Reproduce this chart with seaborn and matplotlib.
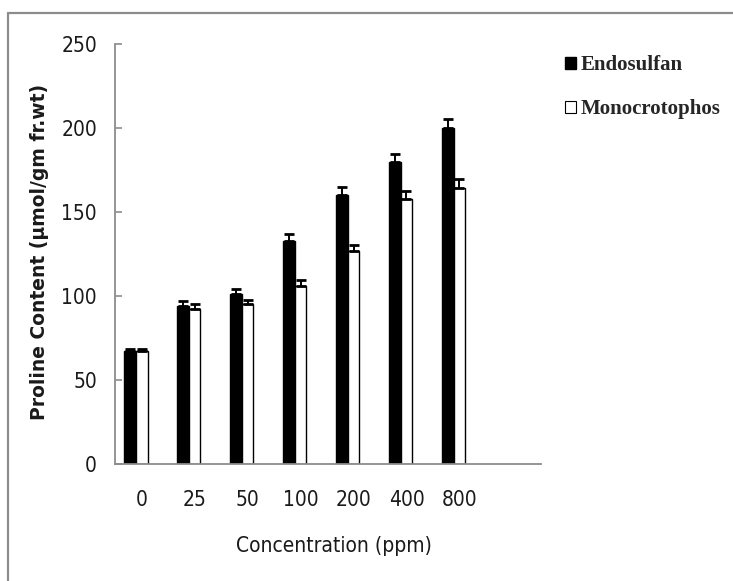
import numpy as np
import pandas as pd
import matplotlib
matplotlib.use("Agg")
import matplotlib.pyplot as plt
from matplotlib.patches import Patch
from matplotlib.lines import Line2D
from matplotlib import font_manager
import seaborn as sns

# values
concentrations = ["0", "25", "50", "100", "200", "400", "800"]
endosulfan = [67, 94, 101, 133, 160, 179.5, 200]
endosulfan_err = [1.2, 2.8, 3.2, 3.8, 4.6, 5.2, 5.6]
monocrotophos = [67, 92, 95, 106, 126.5, 158, 164.5]
monocrotophos_err = [1.2, 3.0, 2.4, 3.8, 3.6, 4.4, 5.0]
series = ["Endosulfan", "Monocrotophos"]
y_ticks = [0, 50, 100, 150, 200, 250]

df = pd.DataFrame({
    "conc": concentrations * 2,
    "value": endosulfan + monocrotophos,
    "err": endosulfan_err + monocrotophos_err,
    "series": [series[0]] * 7 + [series[1]] * 7,
})

sns.set_style("white")

# narrow sans for the axis text (Calibri-like look in the original)
narrow = font_manager.FontProperties(family="DejaVu Sans", stretch="condensed", size=15)

fig = plt.figure(figsize=(7.33, 5.81), dpi=100)
ax = fig.add_axes([0.157, 0.2014, 0.581, 0.7229])

sns.barplot(data=df, x="conc", y="value", hue="series", order=concentrations,
            hue_order=series, palette=["black", "white"], width=0.45, gap=0,
            errorbar=None, edgecolor="black", linewidth=1.0, legend=False, ax=ax)
for p in ax.patches:
    p.set_joinstyle("miter")

# upward-only error bars on top of each bar
for cont, s in zip(ax.containers, series):
    sub = df[df["series"] == s]
    xs = [p.get_x() + p.get_width() / 2 for p in cont.patches]
    ax.errorbar(xs, sub["value"].values, yerr=[np.zeros(len(xs)), sub["err"].values],
                fmt="none", ecolor="black", elinewidth=1.4, capsize=3.8, capthick=2.0)

ax.set_xlim(-0.387, 7.65)
ax.set_ylim(0, 250)
ax.set_yticks(y_ticks)
ax.set_xticks(np.arange(len(concentrations)) + 0.115)
ax.set_xticklabels(concentrations)

for side in ["top", "right"]:
    ax.spines[side].set_visible(False)
for side in ["left", "bottom"]:
    ax.spines[side].set_color("#8c8c8c")
    ax.spines[side].set_linewidth(1.3)

ax.tick_params(axis="y", direction="in", length=5, width=1.2, color="#8c8c8c",
               left=True, pad=13)
ax.tick_params(axis="x", length=0, pad=19)
for lab in ax.get_xticklabels() + ax.get_yticklabels():
    lab.set_fontproperties(narrow)
    lab.set_color("#1a1a1a")

ax.set_xlabel("Concentration (ppm)", fontproperties=narrow, color="#1a1a1a")
ax.xaxis.set_label_coords(0.514, -0.172)
ax.set_ylabel("Proline Content (\u00b5mol/gm fr.wt)", fontsize=13.5,
              fontweight="bold", color="#1a1a1a")
ax.yaxis.set_label_coords(-0.155, 0.505)

handles = [Patch(facecolor="black", edgecolor="black"),
           Patch(facecolor="white", edgecolor="black", linewidth=0.8)]
fig.legend(handles, series, loc="upper left", bbox_to_anchor=(0.771, 0.905),
           frameon=False, prop={"family": "Liberation Serif", "weight": "bold", "size": 15},
           handlelength=0.5, handleheight=0.5, handletextpad=0.25,
           labelspacing=1.15, borderpad=0, borderaxespad=0)

# grey frame around the picture (only left and top edges visible)
fig.add_artist(Line2D([0.0113, 0.0113], [0, 0.977], transform=fig.transFigure,
                      color="#8c8c8c", linewidth=1.6))
fig.add_artist(Line2D([0.0113, 1.0], [0.977, 0.977], transform=fig.transFigure,
                      color="#8c8c8c", linewidth=1.6))

fig.savefig("out.png", dpi=100)
